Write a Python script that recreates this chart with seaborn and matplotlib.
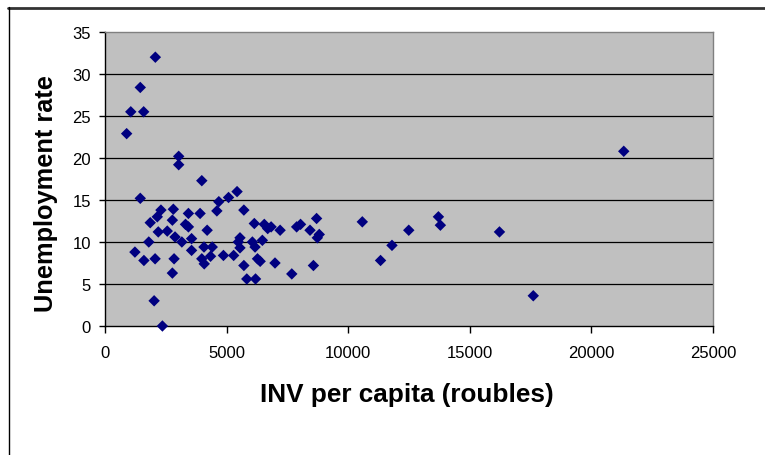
import matplotlib
matplotlib.use("Agg")
import matplotlib.pyplot as plt
from matplotlib.lines import Line2D
import seaborn as sns
import pandas as pd

# INV per capita (roubles)
inv_per_capita = [
    890, 1060, 1590, 1450, 2070, 3030, 3030, 3980, 1450, 5080,
    5430, 4680, 4600, 5710, 2300, 2150, 1860, 2810, 2770, 3430,
    3910, 3310, 3430, 2190, 2560, 4200, 2880, 3160, 3560, 1800,
    3560, 4070, 4410, 3980, 4080, 4340, 4870, 1230, 1600, 2060,
    2840, 2770, 2020, 2360, 5290, 5550, 5480, 5550, 5710, 5830,
    6190, 6140, 6550, 6690, 6830, 7200, 6060, 6170, 6470, 6270,
    6380, 6990, 7680, 7880, 8040, 8430, 8700, 8810, 8730, 8570,
    10580, 11330, 11800, 12490, 13710, 13790, 16220, 17610, 21330,
]
# Unemployment rate
unemployment_rate = [
    22.9, 25.5, 25.5, 28.4, 32.0, 20.2, 19.2, 17.3, 15.2, 15.3,
    16.0, 14.8, 13.7, 13.8, 13.8, 13.0, 12.3, 13.9, 12.6, 13.4,
    13.4, 12.1, 11.8, 11.2, 11.3, 11.4, 10.6, 10.0, 10.4, 10.0,
    9.0, 9.4, 9.4, 8.0, 7.4, 8.3, 8.4, 8.8, 7.8, 8.0,
    8.0, 6.3, 3.0, 0.0, 8.4, 10.5, 10.0, 9.3, 7.2, 5.6,
    5.6, 12.2, 12.1, 11.6, 11.8, 11.4, 10.0, 9.4, 10.2, 8.0,
    7.7, 7.5, 6.2, 11.8, 12.1, 11.4, 12.8, 10.9, 10.5, 7.2,
    12.4, 7.8, 9.6, 11.4, 13.0, 12.0, 11.2, 3.6, 20.8,
]

x_ticks = [0, 5000, 10000, 15000, 20000, 25000]
y_ticks = [0, 5, 10, 15, 20, 25, 30, 35]
x_label = "INV per capita (roubles)"
y_label = "Unemployment rate"

df = pd.DataFrame({"inv": inv_per_capita, "unemp": unemployment_rate})

sns.set_style("white")
plt.rcParams["font.family"] = ["Liberation Sans", "DejaVu Sans"]
plt.rcParams["text.color"] = "black"
plt.rcParams["axes.labelcolor"] = "black"
plt.rcParams["xtick.color"] = "black"
plt.rcParams["ytick.color"] = "black"

fig = plt.figure(figsize=(7.65, 4.56), dpi=100)
ax = fig.add_axes([105 / 765, 1 - 327 / 456, 608 / 765, 294 / 456])
ax.set_facecolor("#C0C0C0")

sns.scatterplot(data=df, x="inv", y="unemp", ax=ax, marker="D", s=34,
                color="#000080", edgecolor="none", linewidth=0,
                clip_on=False, zorder=3)

ax.set_xlim(0, 25000)
ax.set_ylim(0, 35)
ax.set_xticks(x_ticks)
ax.set_yticks(y_ticks)
ax.set_xticklabels([str(t) for t in x_ticks])
ax.set_yticklabels([str(t) for t in y_ticks])

ax.grid(False)
for yv in y_ticks[1:-1]:
    ax.axhline(yv, color="black", linewidth=0.9, zorder=1)

for side in ["top", "right"]:
    ax.spines[side].set_color("#808080")
    ax.spines[side].set_linewidth(1.0)
for side in ["left", "bottom"]:
    ax.spines[side].set_color("black")
    ax.spines[side].set_linewidth(1.0)
    ax.spines[side].set_visible(True)

ax.tick_params(axis="x", direction="out", length=5, width=1, color="black",
               labelcolor="black", pad=8.5, labelsize=12, bottom=True)
ax.tick_params(axis="y", direction="out", length=4.5, width=1, color="black",
               labelcolor="black", pad=5.5, labelsize=12, left=True)

ax.set_xlabel(x_label, fontsize=18.8, fontweight="bold", color="black")
ax.set_ylabel(y_label, fontsize=18.3, fontweight="bold", color="black")
ax.xaxis.set_label_coords(0.497, (327 - 383) / 294)
ax.yaxis.set_label_coords((58 - 105) / 608, (327 - 194) / 294)

# chart frame (top and left edges visible)
fig.add_artist(Line2D([8 / 765, 1.0], [1 - 9 / 456, 1 - 9 / 456],
                      transform=fig.transFigure, color="#333333", linewidth=2))
fig.add_artist(Line2D([8.5 / 765, 8.5 / 765], [1 - 8 / 456, 0.0],
                      transform=fig.transFigure, color="black", linewidth=1))

fig.savefig("out.png", dpi=100)
